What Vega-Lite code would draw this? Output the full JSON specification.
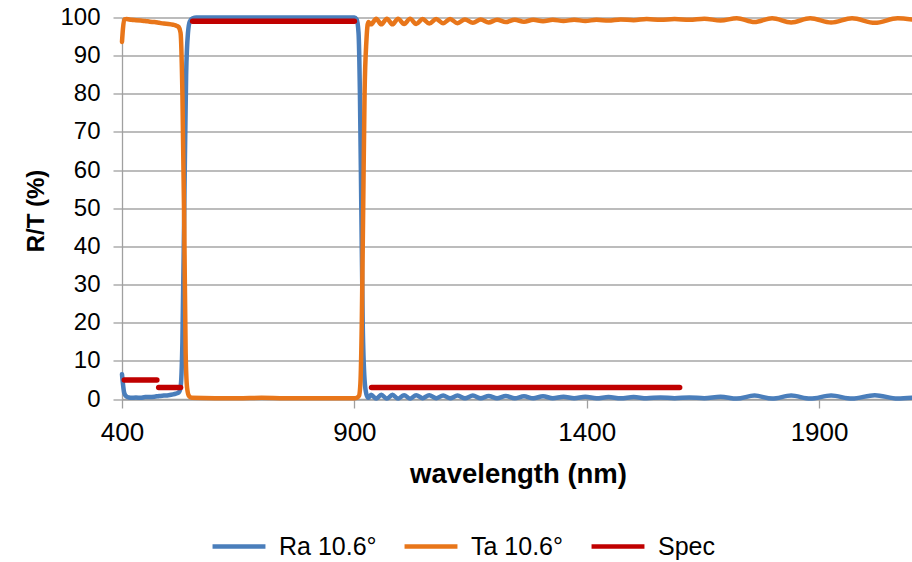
{
  "$schema": "https://vega.github.io/schema/vega-lite/v6.json",
  "autosize": {"type": "none"},
  "width": 790,
  "height": 381.5,
  "padding": {"left": 122, "top": 17.5, "right": 0, "bottom": 163},
  "background": "white",
  "config": {
    "font": "Liberation Sans",
    "view": {"stroke": null},
    "axis": {"labelFont": "Liberation Sans", "titleFont": "Liberation Sans", "labelColor": "#000", "titleColor": "#000"}
  },
  "datasets": {
    "ra": [
      {"x":400,"y":6.5},{"x":402,"y":4},{"x":405,"y":1.5},{"x":410,"y":0.6},{"x":415,"y":0.4},{"x":420,"y":0.3},{"x":430,"y":0.4},{"x":440,"y":0.3},{"x":450,"y":0.5},{"x":460,"y":0.5},{"x":470,"y":0.6},{"x":480,"y":0.8},{"x":490,"y":0.9},{"x":500,"y":1.0},{"x":510,"y":1.2},{"x":516,"y":1.4},{"x":522,"y":1.7},{"x":526,"y":3},{"x":530,"y":15},{"x":534,"y":50},{"x":538,"y":85},{"x":542,"y":96},{"x":546,"y":99},{"x":552,"y":99.8},{"x":560,"y":100},{"x":700,"y":100},{"x":900,"y":100},{"x":905,"y":99.5},{"x":909,"y":96},{"x":912,"y":80},{"x":915,"y":50},{"x":918,"y":20},{"x":922,"y":5},{"x":926,"y":1.2},
      {"x":930,"y":0.3},{"x":936,"y":1.1},{"x":947,"y":0.1},{"x":958,"y":1.1},{"x":970,"y":0.1},{"x":982,"y":1.1},{"x":994,"y":0.1},{"x":1007,"y":1.0},{"x":1020,"y":0.1},{"x":1033,"y":1.0},{"x":1047,"y":0.2},{"x":1061,"y":1.0},{"x":1076,"y":0.2},{"x":1091,"y":0.9},{"x":1106,"y":0.2},{"x":1122,"y":0.9},{"x":1138,"y":0.2},{"x":1155,"y":0.9},{"x":1172,"y":0.2},{"x":1189,"y":0.8},{"x":1207,"y":0.2},{"x":1226,"y":0.8},{"x":1245,"y":0.2},{"x":1265,"y":0.7},{"x":1285,"y":0.2},{"x":1306,"y":0.7},{"x":1327,"y":0.2},{"x":1350,"y":0.6},{"x":1373,"y":0.2},{"x":1397,"y":0.6},{"x":1421,"y":0.2},{"x":1447,"y":0.5},{"x":1473,"y":0.2},{"x":1501,"y":0.5},{"x":1529,"y":0.2},{"x":1559,"y":0.4},{"x":1589,"y":0.2},{"x":1621,"y":0.4},{"x":1653,"y":0.2},{"x":1688,"y":0.6},{"x":1723,"y":0.1},{"x":1761,"y":0.9},{"x":1799,"y":0.1},{"x":1840,"y":0.9},{"x":1881,"y":0.1},{"x":1926,"y":0.9},{"x":1971,"y":0.1},{"x":2020,"y":1.0},{"x":2069,"y":0.1},{"x":2100,"y":0.3}
    ],
    "ta": [
      {"x":400,"y":93.6},{"x":402,"y":97},{"x":405,"y":99.5},{"x":410,"y":99.6},{"x":420,"y":99.4},{"x":430,"y":99.3},{"x":440,"y":99.2},{"x":450,"y":99.1},{"x":460,"y":98.9},{"x":470,"y":98.8},{"x":480,"y":98.6},{"x":490,"y":98.4},{"x":500,"y":98.3},{"x":510,"y":98.1},{"x":518,"y":97.8},{"x":522,"y":97.5},{"x":526,"y":96},{"x":530,"y":80},{"x":534,"y":45},{"x":537,"y":12},{"x":540,"y":3},{"x":544,"y":0.8},{"x":550,"y":0.3},{"x":600,"y":0.2},{"x":650,"y":0.2},{"x":700,"y":0.3},{"x":750,"y":0.2},{"x":800,"y":0.2},{"x":850,"y":0.2},{"x":900,"y":0.2},{"x":905,"y":0.3},{"x":910,"y":0.8},{"x":913,"y":4},{"x":916,"y":20},{"x":919,"y":50},{"x":922,"y":80},{"x":926,"y":94},{"x":930,"y":98.8},
      {"x":936,"y":98.2},{"x":947,"y":99.7},{"x":958,"y":98.2},{"x":970,"y":99.7},{"x":982,"y":98.2},{"x":994,"y":99.7},{"x":1007,"y":98.3},{"x":1020,"y":99.7},{"x":1033,"y":98.3},{"x":1047,"y":99.6},{"x":1061,"y":98.4},{"x":1076,"y":99.6},{"x":1091,"y":98.5},{"x":1106,"y":99.6},{"x":1122,"y":98.5},{"x":1138,"y":99.5},{"x":1155,"y":98.6},{"x":1172,"y":99.5},{"x":1189,"y":98.7},{"x":1207,"y":99.4},{"x":1226,"y":98.8},{"x":1245,"y":99.4},{"x":1265,"y":98.9},{"x":1285,"y":99.4},{"x":1306,"y":99.0},{"x":1327,"y":99.4},{"x":1350,"y":99.1},{"x":1373,"y":99.4},{"x":1397,"y":99.1},{"x":1421,"y":99.4},{"x":1447,"y":99.2},{"x":1473,"y":99.5},{"x":1501,"y":99.3},{"x":1529,"y":99.6},{"x":1559,"y":99.4},{"x":1589,"y":99.6},{"x":1621,"y":99.4},{"x":1653,"y":99.7},{"x":1688,"y":99.2},{"x":1723,"y":99.8},{"x":1761,"y":98.8},{"x":1799,"y":99.8},{"x":1840,"y":98.7},{"x":1881,"y":99.8},{"x":1926,"y":98.7},{"x":1971,"y":99.8},{"x":2020,"y":98.6},{"x":2069,"y":99.8},{"x":2100,"y":99.5}
    ],
    "spec": [
      {"x":405,"y":5,"g":"a"},{"x":475,"y":5,"g":"a"},
      {"x":479,"y":3,"g":"b"},{"x":526,"y":3,"g":"b"},
      {"x":552,"y":99,"g":"c"},{"x":900,"y":99,"g":"c"},
      {"x":937,"y":3,"g":"d"},{"x":1600,"y":3,"g":"d"}
    ]
  },
  "encoding": {
    "x": {
      "field": "x", "type": "quantitative",
      "scale": {"domain": [400, 2100], "nice": false, "zero": false},
      "axis": {
        "values": [400, 900, 1400, 1900], "grid": false, "format": "d",
        "labelFlush": false, "labelBound": false, "labelOverlap": false,
        "title": "wavelength (nm)", "titleFontSize": 27.5, "titleFontWeight": "bold",
        "titleX": 396, "titleY": 83, "titleBaseline": "alphabetic", "titleAlign": "center",
        "labelFontSize": 26, "labelPadding": 11, "tickSize": 9,
        "domainColor": "#A0A0A0", "tickColor": "#A0A0A0", "domainWidth": 1.3, "tickWidth": 1.3
      }
    },
    "y": {
      "field": "y", "type": "quantitative",
      "scale": {"domain": [0, 100], "nice": false},
      "axis": {
        "values": [0,10,20,30,40,50,60,70,80,90,100],
        "gridColor": "#A6A6A6", "gridWidth": 1.3,
        "labelFlush": false, "labelBound": false, "labelOverlap": false,
        "title": "R/T (%)", "titleFontSize": 24, "titleFontWeight": "bold",
        "titleAngle": -90, "titleX": -79, "titleY": 193, "titleBaseline": "alphabetic", "titleAlign": "center",
        "labelFontSize": 24, "labelPadding": 13, "tickSize": 9,
        "domainColor": "#A0A0A0", "tickColor": "#A0A0A0", "domainWidth": 1.3, "tickWidth": 1.3
      }
    },
    "color": {
      "field": "s", "type": "nominal",
      "scale": {"domain": ["Ra 10.6°", "Ta 10.6°", "Spec"], "range": ["#4A7EBB", "#E8761A", "#C00000"]},
      "legend": {
        "title": null, "orient": "none", "direction": "horizontal",
        "legendX": 88, "legendY": 500,
        "symbolType": "stroke", "symbolSize": 2800, "symbolStrokeWidth": 4.5,
        "labelFontSize": 25, "labelFont": "Liberation Sans", "labelColor": "#000",
        "labelOffset": 11, "columnPadding": 18
      }
    }
  },
  "layer": [
    {
      "data": {"name": "ra"},
      "transform": [{"calculate": "'Ra 10.6°'", "as": "s"}],
      "mark": {"type": "line", "strokeWidth": 4.5, "interpolate": "monotone", "strokeCap": "round", "strokeJoin": "round"}
    },
    {
      "data": {"name": "ta"},
      "transform": [{"calculate": "'Ta 10.6°'", "as": "s"}],
      "mark": {"type": "line", "strokeWidth": 4.5, "interpolate": "monotone", "strokeCap": "round", "strokeJoin": "round"}
    },
    {
      "data": {"name": "spec"},
      "transform": [{"calculate": "'Spec'", "as": "s"}],
      "mark": {"type": "line", "strokeWidth": 5.5, "strokeCap": "round"},
      "encoding": {"detail": {"field": "g"}}
    }
  ]
}
